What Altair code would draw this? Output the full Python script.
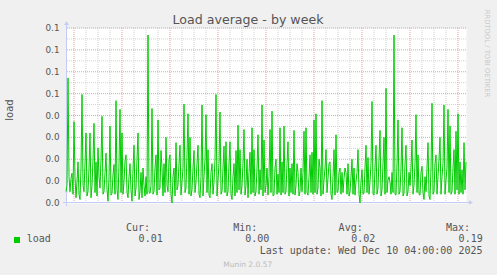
import altair as alt
import pandas as pd

# ---------------- text content ----------------
TITLE = "Load average - by week"
Y_TITLE = "load"
CREDIT = "RRDTOOL / TOBI OETIKER"
FOOTER = "Munin 2.0.57"
LAST_UPDATE = "Last update: Wed Dec 10 04:00:00 2025"
SERIES_NAME = "load"
LEGEND_HEADERS = ["Cur:", "Min:", "Avg:", "Max:"]
LEGEND_VALUES = ["0.01", "0.00", "0.02", "0.19"]

# ---------------- time range ----------------
START = "2025-12-01 20:00"
END = "2025-12-10 04:00"

# ---------------- load values ----------------
# on the hour
LOAD_DEC01 = [0.013, 0.143, 0.013, 0.034]  # 20:00 - 23:00
LOAD_DEC02 = [0.093, 0.006, 0.047, 0.004, 0.124, 0.013, 0.080, 0.013, 0.080, 0.020, 0.091, 0.047,
              0.063, 0.017, 0.099, 0.013, 0.057, 0.002, 0.088, 0.011, 0.044, 0.117, 0.004, 0.107]
LOAD_DEC03 = [0.080, 0.024, 0.055, 0.006, 0.045, 0.002, 0.066, 0.017, 0.080, 0.013, 0.006, 0.020,
              0.030, 0.192, 0.011, 0.108, 0.013, 0.055, 0.095, 0.017, 0.040, 0.045, 0.075, 0.013]
LOAD_DEC04 = [0.055, 0.000, 0.040, 0.069, 0.020, 0.066, 0.024, 0.113, 0.017, 0.102, 0.075, 0.015,
              0.060, 0.024, 0.066, 0.006, 0.112, 0.030, 0.101, 0.061, 0.006, 0.045, 0.024, 0.124]
LOAD_DEC05 = [0.026, 0.104, 0.013, 0.065, 0.070, 0.013, 0.070, 0.004, 0.045, 0.060, 0.089, 0.061,
              0.020, 0.084, 0.020, 0.006, 0.058, 0.086, 0.061, 0.013, 0.078, 0.038, 0.112, 0.072]
LOAD_DEC06 = [0.020, 0.009, 0.084, 0.105, 0.009, 0.050, 0.033, 0.086, 0.047, 0.088, 0.013, 0.070,
              0.040, 0.045, 0.083, 0.020, 0.035, 0.013, 0.013, 0.082, 0.086, 0.009, 0.055, 0.058]
LOAD_DEC07 = [0.095, 0.102, 0.017, 0.040, 0.117, 0.026, 0.061, 0.028, 0.047, 0.004, 0.061, 0.078,
              0.013, 0.040, 0.035, 0.028, 0.035, 0.045, 0.013, 0.050, 0.040, 0.024, 0.061, 0.000]
LOAD_DEC08 = [0.038, 0.011, 0.066, 0.052, 0.024, 0.116, 0.009, 0.066, 0.017, 0.083, 0.015, 0.075,
              0.131, 0.026, 0.024, 0.035, 0.192, 0.009, 0.095, 0.013, 0.086, 0.011, 0.066, 0.013]
LOAD_DEC09 = [0.020, 0.072, 0.020, 0.101, 0.055, 0.009, 0.042, 0.004, 0.013, 0.069, 0.004, 0.114,
              0.013, 0.055, 0.030, 0.075, 0.030, 0.112, 0.026, 0.107, 0.088, 0.013, 0.061, 0.082]
LOAD_DEC10 = [0.102, 0.047, 0.038, 0.069, 0.047]  # 00:00 - 04:00

# at half past the hour
HALF_DEC01 = [0.020, 0.030, 0.028, 0.010]
HALF_DEC02 = [0.030, 0.025, 0.010, 0.040, 0.020, 0.045, 0.008, 0.040, 0.006, 0.050, 0.012, 0.008,
              0.030, 0.050, 0.010, 0.035, 0.015, 0.030, 0.009, 0.032, 0.010, 0.015, 0.045, 0.012]
HALF_DEC03 = [0.010, 0.048, 0.012, 0.030, 0.015, 0.038, 0.008, 0.050, 0.004, 0.035, 0.040, 0.008,
              0.010, 0.012, 0.020, 0.010, 0.040, 0.009, 0.015, 0.060, 0.008, 0.012, 0.020, 0.050]
HALF_DEC04 = [0.010, 0.030, 0.008, 0.015, 0.045, 0.009, 0.040, 0.012, 0.055, 0.010, 0.008, 0.040,
              0.012, 0.045, 0.010, 0.030, 0.008, 0.050, 0.012, 0.009, 0.035, 0.010, 0.050, 0.008]
HALF_DEC05 = [0.045, 0.010, 0.040, 0.012, 0.008, 0.045, 0.010, 0.030, 0.008, 0.012, 0.015, 0.010,
              0.045, 0.009, 0.050, 0.035, 0.010, 0.012, 0.008, 0.040, 0.010, 0.015, 0.008, 0.012]
HALF_DEC06 = [0.040, 0.030, 0.012, 0.008, 0.040, 0.010, 0.012, 0.009, 0.012, 0.010, 0.045, 0.008,
              0.012, 0.010, 0.009, 0.045, 0.008, 0.040, 0.035, 0.010, 0.012, 0.030, 0.012, 0.010]
HALF_DEC07 = [0.012, 0.010, 0.050, 0.008, 0.010, 0.040, 0.012, 0.045, 0.010, 0.030, 0.009, 0.012,
              0.035, 0.010, 0.012, 0.040, 0.010, 0.008, 0.030, 0.010, 0.009, 0.035, 0.010, 0.025]
HALF_DEC08 = [0.010, 0.040, 0.012, 0.010, 0.045, 0.010, 0.040, 0.010, 0.050, 0.008, 0.045, 0.010,
              0.012, 0.030, 0.010, 0.012, 0.010, 0.045, 0.010, 0.040, 0.008, 0.045, 0.008, 0.035]
HALF_DEC09 = [0.040, 0.010, 0.045, 0.012, 0.010, 0.035, 0.012, 0.030, 0.040, 0.008, 0.040, 0.010,
              0.045, 0.010, 0.050, 0.010, 0.045, 0.010, 0.040, 0.012, 0.010, 0.040, 0.010, 0.015]
HALF_DEC10 = [0.010, 0.012, 0.010, 0.015]

# ---------------- axis ticks ----------------
Y_TICK_VALUES = [0.0, 0.025, 0.05, 0.075, 0.1, 0.125, 0.15, 0.175, 0.2]
Y_TICK_LABELS = ["0.0", "0.0", "0.0", "0.0", "0.0", "0.1", "0.1", "0.1", "0.1"]
X_LABEL_DAYS = ["2025-12-02", "2025-12-03", "2025-12-04", "2025-12-05",
                "2025-12-06", "2025-12-07", "2025-12-08", "2025-12-09"]

# ---------------- styles ----------------
FONT = "DejaVu Sans"
MONO = "DejaVu Sans Mono"
FONT_COLOR = "#555555"
LINE_COLOR = "#00CC00"
AXIS_COLOR = "#C4CCF4"
MGRID_COLOR = "#E6A0A0"
GRID_COLOR = "#D2D2D2"


# ---------------- data tables ----------------
def interleave(on_hour, half_past):
    out = []
    for i, v in enumerate(on_hour):
        out.append(v)
        if i < len(half_past):
            out.append(half_past[i])
    return out


load = []
for hours, halves in [(LOAD_DEC01, HALF_DEC01), (LOAD_DEC02, HALF_DEC02), (LOAD_DEC03, HALF_DEC03),
                      (LOAD_DEC04, HALF_DEC04), (LOAD_DEC05, HALF_DEC05), (LOAD_DEC06, HALF_DEC06),
                      (LOAD_DEC07, HALF_DEC07), (LOAD_DEC08, HALF_DEC08), (LOAD_DEC09, HALF_DEC09),
                      (LOAD_DEC10, HALF_DEC10)]:
    load += interleave(hours, halves)

times = pd.date_range(START, periods=len(load), freq="30min")
iso = lambda ts: ts.strftime("%Y-%m-%dT%H:%M:%SZ")
df = pd.DataFrame({"time": [iso(t) for t in times], "load": load})

major_x = pd.date_range("2025-12-02", "2025-12-10", freq="D")
minor_x = [t for t in pd.date_range("2025-12-02", "2025-12-10", freq="6h") if t.hour != 0]
df_major_x = pd.DataFrame({"t": [iso(t) for t in major_x]})
df_minor_x = pd.DataFrame({"t": [iso(t) for t in minor_x]})
df_major_y = pd.DataFrame({"v": Y_TICK_VALUES[1:]})
df_minor_y = pd.DataFrame({"v": [(a + b) / 2 for a, b in zip(Y_TICK_VALUES[:-1], Y_TICK_VALUES[1:])]})
df_ylab = pd.DataFrame({"v": Y_TICK_VALUES, "lab": Y_TICK_LABELS})
ONE = pd.DataFrame({"k": [0]})

t0, t1 = pd.Timestamp(START), pd.Timestamp(END)
x_scale = alt.Scale(type="utc", domain=[t0.value // 10**6, t1.value // 10**6], nice=False)
y_scale = alt.Scale(domain=[0, 0.2], nice=False, zero=True)

x_label_values = [(pd.Timestamp(d) + pd.Timedelta(hours=12)).value // 10**6 for d in X_LABEL_DAYS]

# ---------------- layers ----------------
minor_v = alt.Chart(df_minor_x).mark_rule(color=GRID_COLOR, strokeDash=[1, 1], strokeWidth=1).encode(
    x=alt.X("t:T", scale=x_scale, axis=None))
major_v = alt.Chart(df_major_x).mark_rule(color=MGRID_COLOR, strokeDash=[1, 1], strokeWidth=1).encode(
    x=alt.X("t:T", scale=x_scale, axis=None))
minor_h = alt.Chart(df_minor_y).mark_rule(color=GRID_COLOR, strokeDash=[1, 1], strokeWidth=1).encode(
    y=alt.Y("v:Q", scale=y_scale, axis=None))
major_h = alt.Chart(df_major_y).mark_rule(color=MGRID_COLOR, strokeDash=[1, 1], strokeWidth=1).encode(
    y=alt.Y("v:Q", scale=y_scale, axis=None))

line = alt.Chart(df).mark_line(color=LINE_COLOR, strokeWidth=1).encode(
    x=alt.X("time:T", scale=x_scale,
            axis=alt.Axis(values=x_label_values, format="%d %b", labelFont=FONT, labelFontSize=9,
                          labelColor=FONT_COLOR, ticks=False, domain=False, grid=False,
                          labelPadding=4, title="", labelFlush=False, labelOverlap=False)),
    y=alt.Y("load:Q", scale=y_scale, axis=None),
)

y_axis_line = alt.Chart(ONE).mark_rule(color=AXIS_COLOR, strokeWidth=1).encode(
    x=alt.value(0.5), y=alt.value(-5), y2=alt.value(178))
x_axis_line = alt.Chart(ONE).mark_rule(color=AXIS_COLOR, strokeWidth=1).encode(
    x=alt.value(-3), x2=alt.value(404), y=alt.value(174.5))
arrow_up = alt.Chart(ONE).mark_point(shape="triangle-up", filled=True, color=AXIS_COLOR,
                                     opacity=1, size=22).encode(x=alt.value(0.5), y=alt.value(-5))
arrow_right = alt.Chart(ONE).mark_point(shape="triangle-right", filled=True, color=AXIS_COLOR,
                                        opacity=1, size=22).encode(x=alt.value(405), y=alt.value(174.5))

y_labels = alt.Chart(df_ylab).mark_text(align="right", baseline="middle", font=FONT, fontSize=8.8,
                                        color=FONT_COLOR).encode(
    y=alt.Y("v:Q", scale=y_scale, axis=None), x=alt.value(-6.5), text="lab:N")


def label(text, x, y, size, font=MONO, color=FONT_COLOR, align="left", angle=0, baseline="alphabetic"):
    return alt.Chart(ONE).mark_text(text=text, font=font, fontSize=size, color=color, align=align,
                                    angle=angle, baseline=baseline).encode(
        x=alt.value(x), y=alt.value(y))


texts = [
    label(TITLE, 182, -4, 12.6, font=FONT, align="center"),
    label(Y_TITLE, -56.5, 82, 10, font=FONT, align="center", angle=270, baseline="middle"),
    label(CREDIT, 421, 25.5, 6.8, font=FONT, color="#C8C8C8", align="center", angle=90, baseline="middle"),
    label(SERIES_NAME, -39.3, 214.3, 10),
    label(LAST_UPDATE, 416.5, 226, 10, align="right"),
    label(FOOTER, 181.7, 238.7, 7.5, font=FONT, color="#BBBBBB", align="center"),
]
header_right = [84, 191.3, 296.7, 404]
value_right = [96.7, 203.3, 309.3, 416.7]
for h, v, hx, vx in zip(LEGEND_HEADERS, LEGEND_VALUES, header_right, value_right):
    texts.append(label(h, hx, 203, 10, align="right"))
    texts.append(label(v, vx, 214.3, 10, align="right"))

legend_box = alt.Chart(ONE).mark_rect(color=LINE_COLOR).encode(
    x=alt.value(-52), x2=alt.value(-46), y=alt.value(209), y2=alt.value(215))

chart = alt.layer(
    minor_v, minor_h, major_v, major_h, y_axis_line, x_axis_line, line, arrow_up, arrow_right,
    y_labels, legend_box, *texts
).properties(
    width=400, height=175,
    padding={"left": 66, "top": 28, "right": 31, "bottom": 72},
    autosize=alt.AutoSizeParams(type="none"),
    background="#F0F0F0",
).configure_view(fill="white", stroke="transparent")

chart.save("out.html", embed_options={"renderer": "svg", "actions": False})
